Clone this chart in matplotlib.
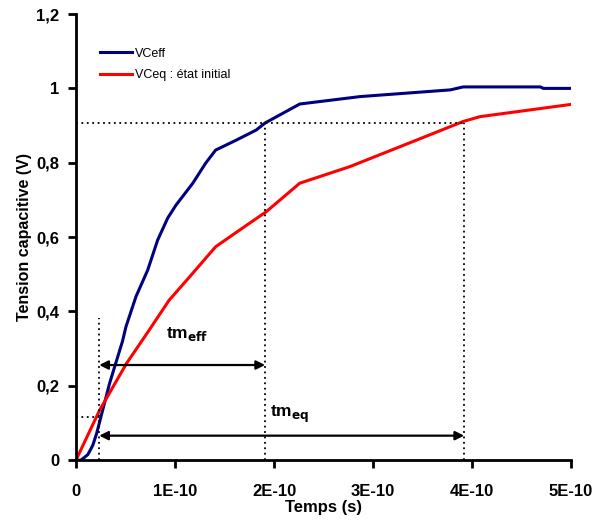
import numpy as np
import matplotlib
matplotlib.use("Agg")
import matplotlib.pyplot as plt

plt.rcParams['font.family'] = ['Liberation Sans', 'DejaVu Sans']

# courbe VCeff (temps en s, tension en V)
t_eff = np.array([0, 0.05, 0.12, 0.17, 0.21, 0.34, 0.47, 0.505, 0.606, 0.724,
                  0.825, 0.926, 1.01, 1.18, 1.31, 1.41, 1.62, 1.82, 1.91,
                  2.26, 2.87, 3.78, 3.91, 4.69, 4.72, 5.0]) * 1e-10
v_eff = [0, 0, 0.015, 0.04, 0.073, 0.207, 0.32, 0.359, 0.44, 0.511,
         0.592, 0.651, 0.686, 0.745, 0.799, 0.834, 0.861, 0.888, 0.907,
         0.958, 0.978, 0.996, 1.004, 1.004, 1.0, 1.0]

# courbe VCeq : etat initial
t_eq = np.array([0, 0.24, 0.51, 0.74, 0.94, 1.18, 1.41, 1.68, 1.92, 2.26,
                 2.77, 3.44, 3.91, 4.08, 5.0]) * 1e-10
v_eq = [0, 0.135, 0.26, 0.35, 0.43, 0.503, 0.574, 0.624, 0.668, 0.745,
        0.79, 0.861, 0.911, 0.924, 0.957]

x_ticks = np.arange(6) * 1e-10
x_labels = ['0', '1E-10', '2E-10', '3E-10', '4E-10', '5E-10']
y_ticks = [0, 0.2, 0.4, 0.6, 0.8, 1.0, 1.2]
y_labels = ['0', '0,2', '0,4', '0,6', '0,8', '1', '1,2']

# reperes temporels
t_start = 0.235e-10
t_m_eff = 1.91e-10
t_m_eq = 3.92e-10
v_90 = 0.907
v_start = 0.116

fig = plt.figure(figsize=(5.98, 5.2), dpi=100)
ax = fig.add_axes([0.127, 0.115, 0.828, 0.858])

ax.plot(t_eff, v_eff, color='#000080', lw=2.2, label='VCeff')
ax.plot(t_eq, v_eq, color='#ff0000', lw=2.2, label='VCeq : état initial')

dot = dict(color='black', ls=(0, (1, 2)), lw=1.3)
ax.plot([0, t_m_eq], [v_90, v_90], **dot)
ax.plot([t_m_eff, t_m_eff], [0, v_90], **dot)
ax.plot([t_m_eq, t_m_eq], [0, v_90], **dot)
ax.plot([t_start, t_start], [0, 0.382], **dot)
ax.plot([0, t_start], [v_start, v_start], **dot)

arrow = dict(arrowstyle='<|-|>', color='black', lw=1.6, mutation_scale=13,
             shrinkA=0, shrinkB=0)
ax.annotate('', xy=(t_m_eff, 0.256), xytext=(t_start, 0.256), arrowprops=arrow)
ax.annotate('', xy=(t_m_eq, 0.066), xytext=(t_start, 0.066), arrowprops=arrow)
ax.text(0.91e-10, 0.33, r'tm$_{\mathbf{eff}}$', fontsize=12.5, fontweight='bold')
ax.text(1.96e-10, 0.115, r'tm$_{\mathbf{eq}}$', fontsize=12.5, fontweight='bold')

ax.set_xlim(0, 5e-10)
ax.set_ylim(0, 1.2)
ax.set_xticks(x_ticks)
ax.set_xticklabels(x_labels)
ax.set_yticks(y_ticks)
ax.set_yticklabels(y_labels)
for lab in ax.get_xticklabels() + ax.get_yticklabels():
    lab.set_fontweight('bold')
    lab.set_fontsize(12)
ax.tick_params(direction='out', length=6, width=2)
ax.tick_params(axis='x', pad=11)
ax.tick_params(axis='y', pad=6)
ax.spines['top'].set_visible(False)
ax.spines['right'].set_visible(False)
ax.spines['left'].set_linewidth(2)
ax.spines['bottom'].set_linewidth(2)
ax.set_xlabel('Temps (s)', fontsize=12, fontweight='bold', labelpad=1)
ax.set_ylabel('Tension capacitive (V)', fontsize=11.5, fontweight='bold', labelpad=3)

ax.legend(loc='upper left', bbox_to_anchor=(0.025, 0.95), frameon=False,
          fontsize=9, handlelength=2.6, handletextpad=0.2, labelspacing=0.75)

fig.savefig('out.png', dpi=100)
